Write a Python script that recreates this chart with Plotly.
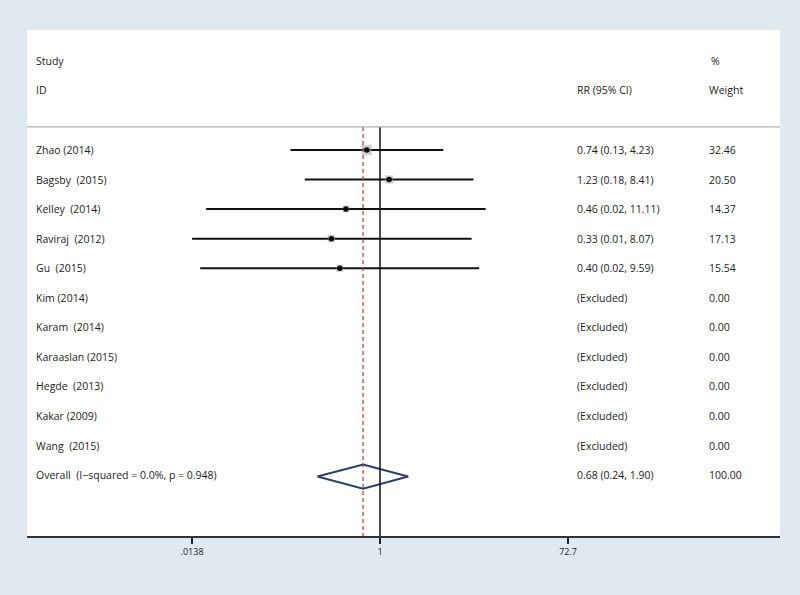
import plotly.graph_objects as go
import math

studies = ["Zhao (2014)", "Bagsby  (2015)", "Kelley  (2014)", "Raviraj  (2012)", "Gu  (2015)",
           "Kim (2014)", "Karam  (2014)", "Karaaslan (2015)", "Hegde  (2013)", "Kakar (2009)", "Wang  (2015)"]
rr = [0.74, 1.23, 0.46, 0.33, 0.40, None, None, None, None, None, None]
# lower/upper CI bounds as read from the drawn line lengths (unrounded estimates)
lo = [0.13, 0.18, 0.019, 0.0138, 0.0166, None, None, None, None, None, None]
hi = [4.23, 8.41, 11.11, 8.07, 9.59, None, None, None, None, None, None]
rr_text = ["0.74 (0.13, 4.23)", "1.23 (0.18, 8.41)", "0.46 (0.02, 11.11)", "0.33 (0.01, 8.07)",
           "0.40 (0.02, 9.59)", "(Excluded)", "(Excluded)", "(Excluded)", "(Excluded)", "(Excluded)", "(Excluded)"]
weights = [32.46, 20.50, 14.37, 17.13, 15.54, 0.00, 0.00, 0.00, 0.00, 0.00, 0.00]
overall_label = "Overall  (I\u2212squared = 0.0%, p = 0.948)"
overall = 0.68
overall_lo = 0.24
overall_hi = 1.90
overall_text = "0.68 (0.24, 1.90)"
overall_weight = "100.00"
tick_vals = [0.0138, 1, 72.7]
tick_text = [".0138", "1", "72.7"]

FONT = "Open Sans"
TXT = "#1c1c1c"
BG = "#dfe9ef"
fig = go.Figure()

n = len(studies)
y_over = n

# CI lines
for i in range(n):
    if rr[i] is None:
        continue
    fig.add_trace(go.Scatter(x=[lo[i], hi[i]], y=[i, i], mode="lines",
                             line=dict(color="#111111", width=2), showlegend=False, hoverinfo="skip"))
# weight boxes
xs = [rr[i] for i in range(n) if rr[i] is not None]
yb = [i for i in range(n) if rr[i] is not None]
sizes = [1.8 * math.sqrt(weights[i]) for i in range(n) if rr[i] is not None]
fig.add_trace(go.Scatter(x=xs, y=yb, mode="markers",
                         marker=dict(symbol="square", size=sizes, color="rgba(160,165,170,0.75)", line=dict(width=0)),
                         showlegend=False, hoverinfo="skip"))
fig.add_trace(go.Scatter(x=xs, y=yb, mode="markers",
                         marker=dict(symbol="circle", size=5.5, color="#000000"),
                         showlegend=False, hoverinfo="skip"))
# diamond
fig.add_trace(go.Scatter(x=[overall_lo, overall, overall_hi, overall, overall_lo],
                         y=[y_over + 0.05, y_over - 0.36, y_over + 0.05, y_over + 0.46, y_over + 0.05],
                         mode="lines", line=dict(color="#2b3f6b", width=2),
                         showlegend=False, hoverinfo="skip"))

y_top = -0.78
y_bot = 13.06
fig.add_shape(type="line", xref="x", yref="y", x0=1, x1=1, y0=y_top, y1=y_bot,
              line=dict(color="#111111", width=1.5))
fig.add_shape(type="line", xref="x", yref="y", x0=overall, x1=overall, y0=y_top, y1=y_bot,
              line=dict(color="#b8383a", width=1.2, dash="4px,3px"))
fig.add_shape(type="line", xref="paper", yref="y", x0=0, x1=1, y0=y_top, y1=y_top,
              line=dict(color="#a8b0b8", width=1.2))

def px(p):
    return (p - 27) / 753.0

def ann(x, y, text):
    fig.add_annotation(x=px(x), y=y, xref="paper", yref="y", text=text, showarrow=False,
                       xanchor="left", yanchor="middle", font=dict(family=FONT, size=10.5, color=TXT))

ann(34, -3.02, "Study")
ann(34, -2.04, "ID")
ann(575, -2.04, "RR (95% CI)")
ann(709, -3.02, "%")
ann(707, -2.04, "Weight")
for i in range(n):
    ann(34, i, studies[i].replace("  ", "\u00a0\u00a0"))
    ann(575, i, rr_text[i])
    ann(707, i, f"{weights[i]:.2f}")
ann(34, y_over, overall_label.replace("  ", "\u00a0\u00a0"))
ann(575, y_over, overall_text)
ann(707, y_over, overall_weight)

fig.update_layout(
    width=800, height=595,
    margin=dict(l=27, r=20, t=30, b=59),
    paper_bgcolor=BG, plot_bgcolor="#ffffff",
    showlegend=False,
    xaxis=dict(type="log", range=[-3.494, 3.959], tickvals=tick_vals, ticktext=tick_text,
               ticks="outside", ticklen=6, tickwidth=2, tickcolor="#222222",
               showline=True, linecolor="#333333", linewidth=2, showgrid=False, zeroline=False,
               tickfont=dict(family=FONT, size=9, color=TXT)),
    yaxis=dict(range=[y_bot, -4.06], showticklabels=False, showgrid=False, zeroline=False, ticks=""),
)

fig.write_html("out.html", config={"displayModeBar": False},
               post_script="document.body.style.margin='0';document.body.style.background='" + BG + "';")
